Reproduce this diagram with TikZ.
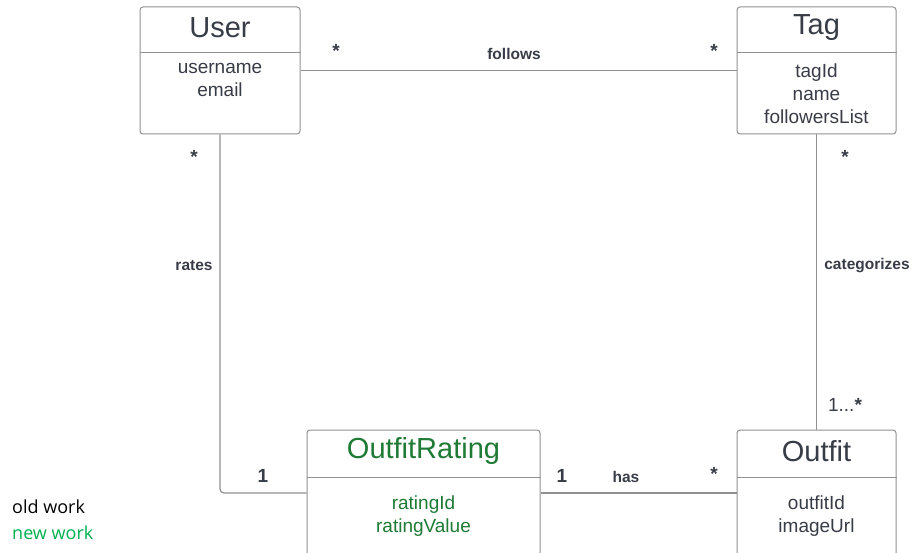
\documentclass[tikz,border=0pt]{standalone}
\usepackage{fontspec}
\setmainfont{Liberation Sans}
\newfontfamily\legendfont{Open Sans}
\definecolor{ink}{RGB}{55,60,70}
\definecolor{edge}{RGB}{145,145,148}
\definecolor{newgreen}{RGB}{30,122,52}
\definecolor{legendgreen}{RGB}{0,176,80}
\tikzset{
  classbox/.style={draw=edge, line width=1pt, rounded corners=3pt, fill=white, inner sep=0pt},
  divider/.style={draw=edge, line width=1pt},
  assoc/.style={draw=edge, line width=1.2pt},
  title/.style={font=\fontsize{29}{33}\selectfont, text=ink, inner sep=0pt},
  attrs/.style={font=\fontsize{19}{23}\selectfont, text=ink, align=center, inner sep=0pt, anchor=north},
  rolelabel/.style={font=\bfseries\fontsize{15.5}{18}\selectfont, text=ink, inner sep=0pt},
  mult/.style={font=\bfseries\fontsize{19}{22}\selectfont, text=ink, inner sep=0pt},
  legend/.style={font=\legendfont\fontsize{18}{21}\selectfont, anchor=west, inner sep=0pt}
}
\begin{document}
\begin{tikzpicture}[x=1pt, y=-1pt]
\useasboundingbox (0,0) rectangle (913,553);

% class boxes
\node[classbox, minimum width=160pt, minimum height=127pt] (user) at (220,70.5) {};
\node[classbox, minimum width=159pt, minimum height=127pt] (tag) at (816.5,70.5) {};
\node[classbox, minimum width=233pt, minimum height=126pt] (rating) at (423.5,493) {};
\node[classbox, minimum width=159pt, minimum height=126pt] (outfit) at (816.5,493) {};

% header dividers
\draw[divider] (user.north west |- 0,53) -- (user.north east |- 0,53);
\draw[divider] (tag.north west |- 0,53) -- (tag.north east |- 0,53);
\draw[divider] (rating.north west |- 0,477) -- (rating.north east |- 0,477);
\draw[divider] (outfit.north west |- 0,477) -- (outfit.north east |- 0,477);

% class names
\node[title] (userT) at (220,27.5) {User};
\node[title] (tagT) at (816.5,27.5) {Tag};
\node[title, text=newgreen] (ratingT) at (423.5,451) {OutfitRating};
\node[title] (outfitT) at (816.5,451) {Outfit};

% attributes
\node[attrs] (userA) at (220,63.5) {username\\email};
\node[attrs] (tagA) at (816.5,63.5) {tagId\\name\\followersList};
\node[attrs, text=newgreen] (ratingA) at (423.5,496) {ratingId\\ratingValue};
\node[attrs] (outfitA) at (816.5,496) {outfitId\\imageUrl};

% associations
\draw[assoc] (user.east) -- (tag.west);
\draw[assoc, rounded corners=4pt] (user.south) |- (rating.west);
\draw[assoc] (tag.south) -- (outfit.north);
\draw[assoc] (rating.east) -- (outfit.west);

% association names
\node[rolelabel] (follows) at (514,54) {follows};
\node[rolelabel] (rates) at (194,266) {rates};
\node[rolelabel] (categorizes) at (867,266) {categorizes};
\node[rolelabel] (has) at (626,477) {has};

% multiplicities
\node[mult] (m1) at (336,51) {*};
\node[mult] (m2) at (714,51) {*};
\node[mult] (m3) at (194,157) {*};
\node[mult] (m4) at (845,157) {*};
\node[mult] (m5) at (263,476) {1};
\node[mult] (m6) at (562,476) {1};
\node[mult] (m7) at (714,474) {*};
\node[font=\fontsize{19}{22}\selectfont, text=ink, inner sep=0pt] (m8) at (845,405) {1...\textbf{*}};

% legend
\node[legend, text=black] (old) at (12,507) {old work};
\node[legend, text=legendgreen] (new) at (12,533) {new work};
\end{tikzpicture}
\end{document}
